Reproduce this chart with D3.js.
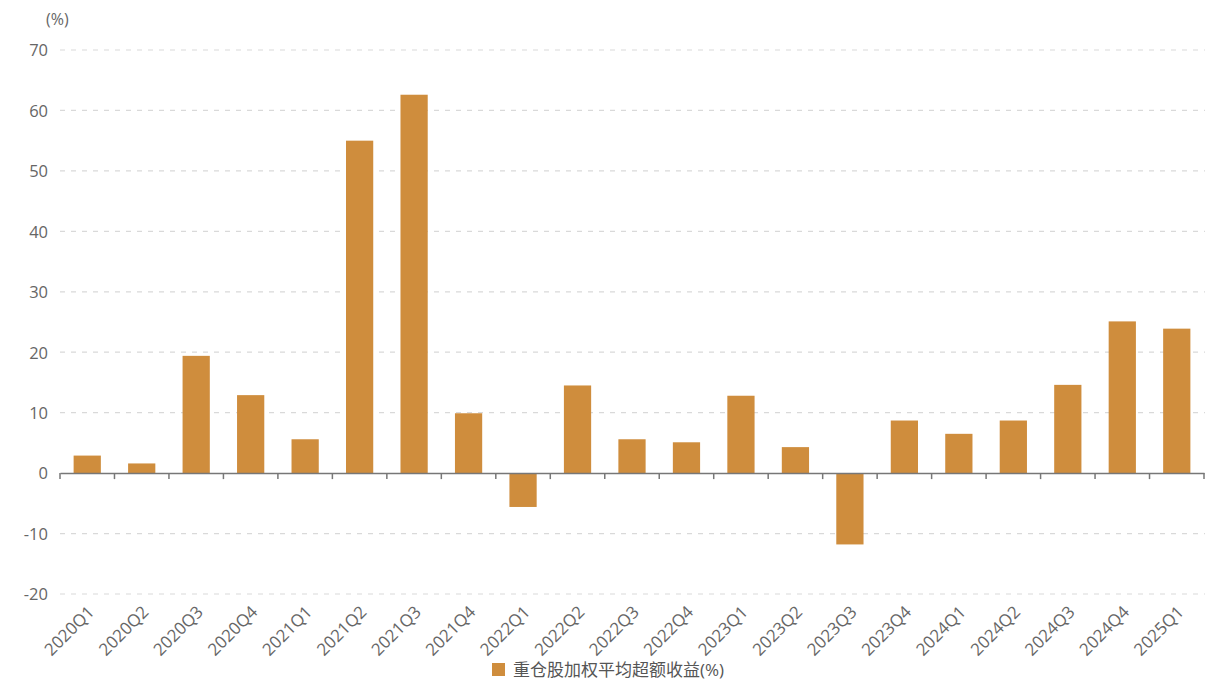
<!DOCTYPE html>
<html><head><meta charset="utf-8">
<script src="https://cdn.jsdelivr.net/npm/d3@7"></script>
<style>
body{margin:0;background:#fff;}
svg{display:block;}
text{font-family:"Open Sans","Noto Sans CJK SC",sans-serif;}
</style></head>
<body><svg id="c" width="1224" height="693"></svg>
<script>
const categories = ["2020Q1","2020Q2","2020Q3","2020Q4","2021Q1","2021Q2","2021Q3","2021Q4","2022Q1","2022Q2","2022Q3","2022Q4","2023Q1","2023Q2","2023Q3","2023Q4","2024Q1","2024Q2","2024Q3","2024Q4","2025Q1"];
const values = [2.9,1.6,19.4,12.9,5.6,55.0,62.6,9.9,-5.6,14.5,5.6,5.1,12.8,4.3,-11.8,8.7,6.5,8.7,14.6,25.1,23.9];
const yTicks = [-20,-10,0,10,20,30,40,50,60,70];
const seriesName = "重仓股加权平均超额收益(%)";
const unitLabel = "(%)";

const svg = d3.select("#c");
const x = d3.scaleBand().domain(categories).range([60,1204]).paddingInner(0).paddingOuter(0);
const y = d3.scaleLinear().domain([-20,70]).range([594,50]);
const barW = x.bandwidth()*0.5;
const color = "#CF8D3D";

// gridlines
svg.append("g").selectAll("line").data(yTicks.filter(d=>d!==0)).join("line")
  .attr("x1",60).attr("x2",1205).attr("y1",d=>y(d)).attr("y2",d=>y(d))
  .attr("stroke","#d9d9d9").attr("stroke-width",1.2).attr("stroke-dasharray","5,6");

// y labels
const yAxis = d3.axisLeft(y).tickValues(yTicks).tickSize(0).tickPadding(0).tickFormat(d=>String(d));
const gy = svg.append("g").attr("transform","translate(48,0)").call(yAxis);
gy.select(".domain").remove();
gy.selectAll("text").attr("fill","#666").attr("font-size",16.5).attr("dy","0.35em")
  .attr("font-family","'Open Sans',sans-serif");

svg.append("text").attr("x",46).attr("y",25).attr("fill","#666").attr("font-size",16).text(unitLabel);

// bars
svg.append("g").selectAll("rect").data(values).join("rect")
  .attr("x",(d,i)=>x(categories[i])+(x.bandwidth()-barW)/2)
  .attr("width",barW)
  .attr("y",d=>y(Math.max(0,d)))
  .attr("height",d=>Math.abs(y(d)-y(0)))
  .attr("fill",color);

// x axis line at zero
const xAxis = d3.axisBottom(x).tickSize(0).tickFormat("");
const gx = svg.append("g").attr("transform",`translate(0,${y(0)})`).call(xAxis);
gx.select(".domain").attr("stroke","#777").attr("stroke-width",1.5);
const bounds = categories.map(c=>x(c)).concat([x.range()[1]]);
gx.selectAll(".bt").data(bounds).join("line").attr("class","bt")
  .attr("x1",d=>d).attr("x2",d=>d).attr("y1",0).attr("y2",6)
  .attr("stroke","#777").attr("stroke-width",1.5);

// x labels
svg.append("g").selectAll("text").data(categories).join("text")
  .attr("transform",d=>`translate(${x(d)+x.bandwidth()/2-1},${604}) rotate(-45)`)
  .attr("text-anchor","end").attr("dy","0.75em")
  .attr("fill","#666").attr("font-size",17).text(d=>d);

// legend
const lg = svg.append("g").attr("transform","translate(492,663)");
lg.append("rect").attr("width",13).attr("height",13).attr("fill",color);
lg.append("text").attr("x",21).attr("y",7).attr("dy","0.35em").attr("fill","#555").attr("font-size",17)
  .attr("font-family","'Noto Sans CJK SC',sans-serif").text(seriesName);
</script></body></html>
